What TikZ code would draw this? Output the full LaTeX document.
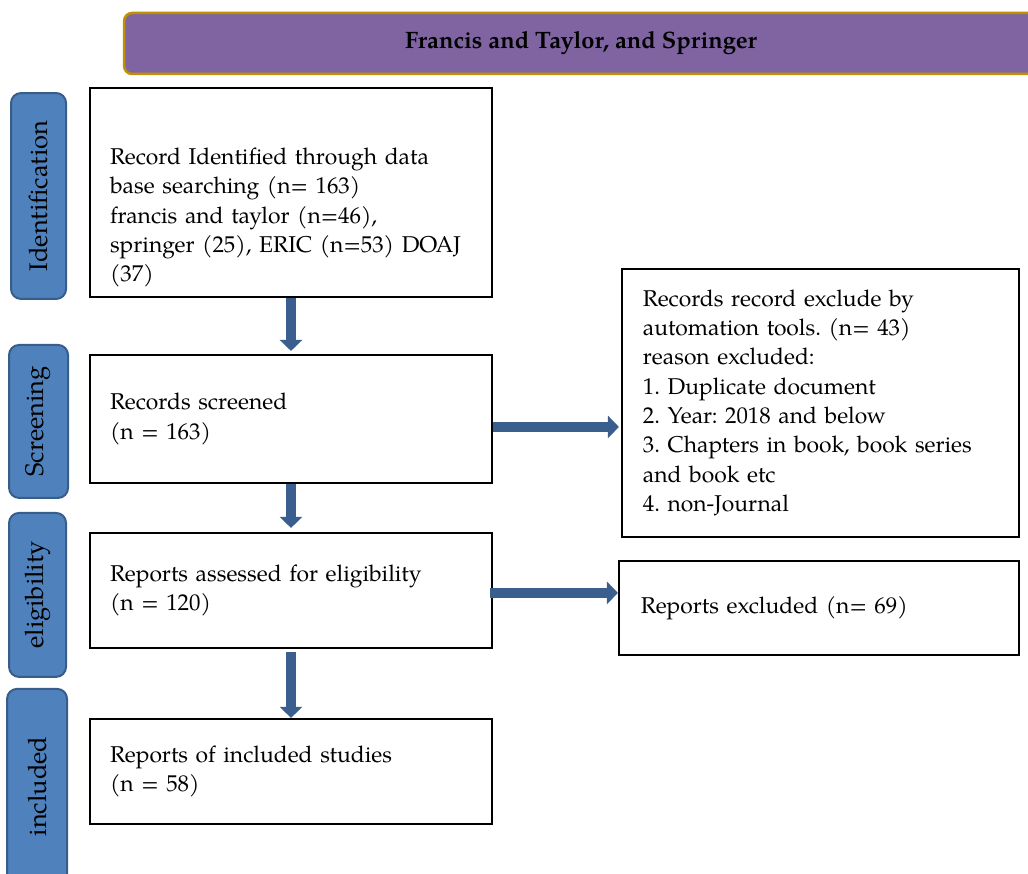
\documentclass[tikz,border=0pt]{standalone}
\usepackage{fontspec}
\setmainfont{TeX Gyre Pagella}
\usetikzlibrary{positioning, arrows.meta}
\definecolor{bannerfill}{HTML}{8064A2}
\definecolor{bannerline}{HTML}{BF9000}
\definecolor{tabfill}{HTML}{4F81BD}
\definecolor{tabline}{HTML}{385D8A}
\definecolor{flowblue}{HTML}{3A5F8F}
\frenchspacing
\tikzstyle{blk}=[draw, line width=0.04cm, align=left, inner xsep=0.4cm, text width=7.24cm, font=\fontsize{13}{16.7}\selectfont]
\tikzstyle{tab}=[draw=tabline, fill=tabfill, line width=0.04cm, rounded corners=0.2cm, minimum width=1.1cm, font=\fontsize{14.5}{16}\selectfont]
\tikzstyle{banner}=[draw=bannerline, fill=bannerfill, line width=0.05cm, rounded corners=0.16cm, minimum width=18.28cm, minimum height=1.22cm, font=\bfseries\fontsize{13.5}{16}\selectfont]
\tikzstyle{flow}=[-{Triangle[width=0.44cm, length=0.22cm]}, draw=flowblue, fill=flowblue, line width=0.2cm]

\begin{document}
\begin{tikzpicture}[x=0.02cm, y=-0.02cm]
    \clip (0,0) rectangle (1028,874);
    \node [banner] (src) at (581,43.5) {Francis and Taylor, and Springer};
    % main column
    \node [blk, minimum height=4.18cm] (ident) at (291,192.5) {\rule{0pt}{38pt}Record Identified through data\\ base searching (n= 163)\\ francis and taylor (n=46),\\ springer (25), ERIC (n=53) DOAJ\\ (37)};
    \node [blk, minimum height=2.56cm, below=1.12cm of ident] (scr) {Records screened\\ (n = 163)};
    \node [blk, minimum height=2.3cm, below=0.96cm of scr] (elig) {Reports assessed for eligibility\\ (n = 120)};
    \node [blk, minimum height=2.1cm, below=1.38cm of elig] (incl) {Reports of included studies\\ (n = 58)};
    % exclusions
    \node [blk, text width=7.1cm, inner xsep=0.42cm, minimum height=5.36cm, right=2.56cm of scr, yshift=0.32cm] (autoexc) {Records record exclude by\\ automation tools. (n= 43)\\ reason excluded:\\ 1. Duplicate document\\ 2. Year: 2018 and below\\ 3. Chapters in book, book series\\ and book etc\\ 4. non-Journal};
    \node [blk, text width=7.12cm, inner xsep=0.44cm, minimum height=1.88cm, right=2.5cm of elig, yshift=-0.35cm] (repexc) {Reports excluded (n= 69)};
    % stage tabs
    \node [tab, minimum height=4.12cm, left=0.44cm of ident, yshift=-0.07cm] (tident) {\rotatebox{90}{Identification}};
    \node [tab, minimum width=1.18cm, minimum height=3.06cm, left=0.4cm of scr, yshift=-0.05cm] (tscr) {\rotatebox{90}{Screening}};
    \node [tab, minimum width=1.14cm, minimum height=3.28cm, left=0.44cm of elig, yshift=-0.09cm] (telig) {\rotatebox{90}{eligibility}};
    \node [tab, minimum width=1.2cm, minimum height=3.9cm, left=0.42cm of incl, yshift=-0.3cm] (tincl) {\rotatebox{90}{included}};
    % arrows
    \coordinate (scrout) at ([yshift=-0.16cm]scr.east);
    \coordinate (eligout) at ([xshift=-0.06cm, yshift=-0.05cm]elig.east);
    \draw [flow, shorten >=0.06cm] (ident) -- (scr);
    \draw [flow, shorten >=0.08cm] (scr) -- (elig);
    \draw [flow, shorten <=0.06cm] (elig) -- (incl);
    \draw [flow, shorten >=0.04cm] (scrout) -- (scrout -| autoexc.west);
    \draw [flow] (eligout) -- (eligout -| repexc.west);
\end{tikzpicture}
\end{document}
